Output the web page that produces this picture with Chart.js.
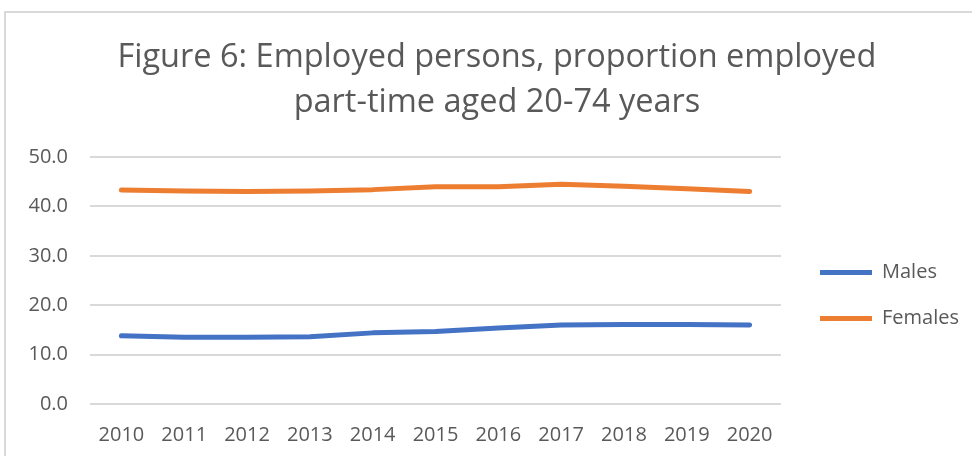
<!DOCTYPE html>
<html>
<head>
<meta charset="utf-8">
<script src="https://cdn.jsdelivr.net/npm/chart.js@4"></script>
<style>
    html, body { margin: 0; padding: 0; background: #ffffff; overflow: hidden; }
    #frame {
        position: absolute; left: 4px; top: 11px; width: 1000px; height: 500px;
        border-left: 2px solid #d9d9d9; border-top: 2px solid #d9d9d9;
    }
    #wrap { position: absolute; left: 0; top: 0; width: 972px; height: 456px; }
</style>
</head>
<body>
<div id="frame"></div>
<div id="wrap"><canvas id="chart"></canvas></div>
<script>
// ===============================
// Data
// ===============================

// Years on the X axis
const years = ["2010", "2011", "2012", "2013", "2014", "2015", "2016", "2017", "2018", "2019", "2020"];

// Share employed part-time (%)
const males = [13.8, 13.5, 13.5, 13.6, 14.4, 14.7, 15.4, 16.0, 16.1, 16.1, 16.0];
const females = [43.3, 43.1, 43.0, 43.1, 43.4, 44.0, 44.0, 44.5, 44.1, 43.6, 43.0];

// Title lines
const titleLines = ["Figure 6: Employed persons, proportion employed", "part-time aged 20-74 years"];


// ===============================
// Nudge legend and title boxes after layout
// ===============================
const boxShift = {
    id: "boxShift",
    afterLayout(chart) {
        const lg = chart.legend;
        lg.left += 13; lg.right += 13;
        lg.top += 72; lg.bottom += 72;

        const tb = chart.titleBlock;
        tb.left += 8; tb.right += 8;
    }
};

const textGrey = "#595959";
const fontFam = "'Open Sans', Lato, sans-serif";

// ===============================
// Chart
// ===============================
new Chart(document.getElementById("chart"), {
    type: "line",
    data: {
        labels: years,
        datasets: [
            {
                label: "Males",
                data: males,
                borderColor: "#4472c4",
                backgroundColor: "#4472c4",
                borderWidth: 5,
                borderCapStyle: "round",
                borderJoinStyle: "round",
                pointRadius: 0,
                tension: 0
            },
            {
                label: "Females",
                data: females,
                borderColor: "#ed7d31",
                backgroundColor: "#ed7d31",
                borderWidth: 5,
                borderCapStyle: "round",
                borderJoinStyle: "round",
                pointRadius: 0,
                tension: 0
            }
        ]
    },
    options: {
        responsive: true,
        maintainAspectRatio: false,
        animation: false,
        layout: { padding: { left: 22, right: 16, top: 0, bottom: 9 } },
        plugins: {
            title: {
                display: true,
                text: titleLines,
                color: textGrey,
                font: { family: fontFam, size: 32.5, weight: "normal", lineHeight: 1.385 },
                padding: { top: 35, bottom: 32 }
            },
            legend: {
                position: "right",
                labels: {
                    color: textGrey,
                    font: { family: fontFam, size: 20 },
                    usePointStyle: true,
                    pointStyle: "line",
                    pointStyleWidth: 52,
                    padding: 26
                }
            },
            tooltip: { enabled: false }
        },
        scales: {
            x: {
                offset: true,
                afterFit(scale) { scale.height = 43; },
                grid: { display: false, drawTicks: false },
                border: { display: false },
                ticks: {
                    color: textGrey,
                    font: { family: fontFam, size: 20 },
                    padding: 19,
                    maxRotation: 0
                }
            },
            y: {
                min: 0,
                max: 50,
                afterFit(scale) { scale.width = 68; },
                grid: { color: "#d9d9d9", lineWidth: 2, drawTicks: false },
                border: { display: false },
                ticks: {
                    stepSize: 10,
                    color: textGrey,
                    font: { family: fontFam, size: 20 },
                    padding: 22,
                    callback: v => v.toFixed(1)
                }
            }
        }
    },
    plugins: [boxShift]
});
</script>
</body>
</html>
